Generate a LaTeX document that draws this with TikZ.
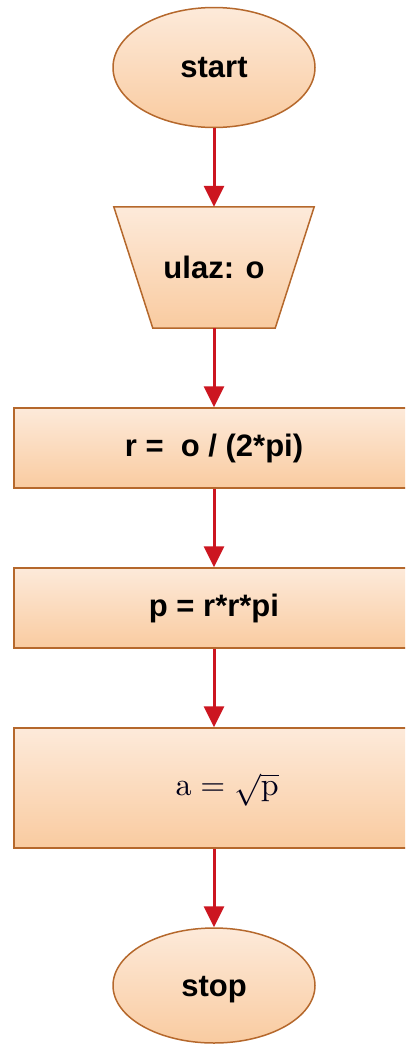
\documentclass[tikz,border=0pt]{standalone}
\usepackage[no-math]{fontspec}
\setmainfont{Liberation Sans}
\usetikzlibrary{shapes.geometric,arrows.meta}
\definecolor{fillTop}{RGB}{253,234,218}
\definecolor{fillBot}{RGB}{249,203,160}
\definecolor{edge}{RGB}{181,104,44}
\definecolor{arrowred}{RGB}{204,22,32}
\tikzset{
  terminal/.style={ellipse, draw=edge, line width=1.5pt, top color=fillTop, bottom color=fillBot,
    minimum width=202pt, minimum height=120pt, inner sep=0pt, font=\fontsize{31}{36}\selectfont\bfseries},
  process/.style={rectangle, draw=edge, line width=1.5pt, top color=fillTop, bottom color=fillBot,
    minimum width=400pt, minimum height=80pt, inner sep=0pt, font=\fontsize{31}{36}\selectfont\bfseries},
  iobox/.style={rectangle, minimum width=200pt, minimum height=121pt, inner sep=0pt,
    font=\fontsize{31}{36}\selectfont\bfseries},
  flow/.style={draw=arrowred, line width=3pt, -{Triangle[width=20pt,length=21pt]}, shorten >=0pt}
}
\begin{document}
\begin{tikzpicture}[x=1pt,y=-1pt]
\useasboundingbox (0,0) rectangle (405,1044);
\clip (0,0) rectangle (405,1044);
\node[terminal] (start) at (214,67.5) {start};
\node[iobox] (ulaz) at (214,267.5) {};
\path[draw=edge, line width=1.5pt, top color=fillTop, bottom color=fillBot]
  (ulaz.north west) -- (ulaz.north east) -- ([xshift=-39pt]ulaz.south east)
  -- ([xshift=39pt]ulaz.south west) -- cycle;
\node[iobox] at (ulaz.center) {ulaz: o};
\node[process] (r) at (214,448) {r =\ \ o / (2*pi)};
\node[process] (p) at (214,608) {p = r*r*pi};
\node[process, minimum height=120pt] (a) at (214,788) {};
\node[inner sep=0pt, text=black!90!blue] at ([xshift=13pt,yshift=-2pt]a.center) {\scalebox{3.2}{\normalsize$\mathrm{a}=\sqrt{\mathrm{p}}$}};
\node[terminal, minimum height=115pt] (stop) at (214,985.5) {};
\node[font=\fontsize{31}{36}\selectfont\bfseries, inner sep=0pt] at ([yshift=-4pt]stop.center) {stop};
\draw[flow] (start) -- (ulaz);
\draw[flow] (ulaz) -- (r);
\draw[flow] (r) -- (p);
\draw[flow] (p) -- (a);
\draw[flow] (a) -- (stop);
\end{tikzpicture}
\end{document}
